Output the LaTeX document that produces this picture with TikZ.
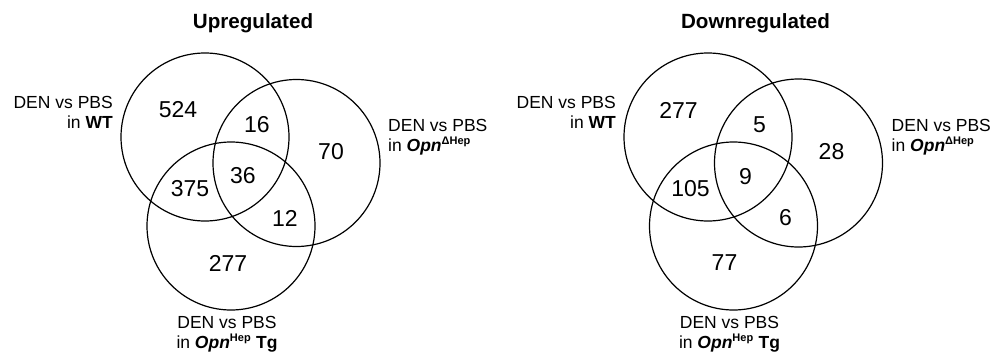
\documentclass[tikz,border=0pt]{standalone}
\usepackage{fontspec}
\setmainfont{Liberation Sans}
\begin{document}
\begin{tikzpicture}[x=1pt,y=-1pt,
  venn/.style={draw=black,line width=1.2pt},
  num/.style={font=\fontsize{23}{27}\selectfont,inner sep=0pt},
  lbl/.style={font=\fontsize{17.5}{21}\selectfont,inner sep=0pt},
  ttl/.style={font=\fontsize{20.6}{24}\selectfont\bfseries,inner sep=0pt}]
\useasboundingbox (0,0) rectangle (996,353);
\newcommand{\supx}[1]{\textsuperscript{\fontsize{11}{12}\selectfont\bfseries #1}}
% ---------- Upregulated ----------
\begin{scope}
\node[ttl,anchor=base] (t1) at (253,28.5) {Upregulated};
\draw[venn] (205,137) circle (84);
\draw[venn] (296.5,163) circle (83.5);
\draw[venn] (231,226) circle (84);
\node[num] (a1) at (178,110) {524};
\node[num] (a2) at (257,125) {16};
\node[num] (a3) at (331,152) {70};
\node[num] (a4) at (190,189) {375};
\node[num] (a5) at (243,176) {36};
\node[num] (a6) at (285,218) {12};
\node[num] (a7) at (228,263) {277};
\node[lbl,anchor=base east] (l1a) at (113,108) {DEN vs PBS};
\node[lbl,anchor=base east] (l1b) at (113,128) {in \textbf{WT}};
\node[lbl,anchor=base west] (r1a) at (388,131) {DEN vs PBS};
\node[lbl,anchor=base west] (r1b) at (388,151) {in \textbf{\textit{Opn}}\supx{ΔHep}};
\node[lbl,anchor=base] (b1a) at (227,328) {DEN vs PBS};
\node[lbl,anchor=base] (b1b) at (227,348) {in \textbf{\textit{Opn}}\supx{Hep} \textbf{Tg}};
\end{scope}
% ---------- Downregulated ----------
\begin{scope}[xshift=502.5]
\node[ttl,anchor=base] (t2) at (253,28.5) {Downregulated};
\draw[venn] (205.5,137) circle (84);
\draw[venn] (296,163) circle (84);
\draw[venn] (231,226) circle (84);
\node[num] (c1) at (176,110) {277};
\node[num] (c2) at (257,125) {5};
\node[num] (c3) at (329,152) {28};
\node[num] (c4) at (188,189) {105};
\node[num] (c5) at (243,177) {9};
\node[num] (c6) at (283,218) {6};
\node[num] (c7) at (222,263) {77};
\node[lbl,anchor=base east] (l2a) at (113.5,108) {DEN vs PBS};
\node[lbl,anchor=base east] (l2b) at (113.5,128) {in \textbf{WT}};
\node[lbl,anchor=base west] (r2a) at (389,131) {DEN vs PBS};
\node[lbl,anchor=base west] (r2b) at (389,151) {in \textbf{\textit{Opn}}\supx{ΔHep}};
\node[lbl,anchor=base] (b2a) at (227,328) {DEN vs PBS};
\node[lbl,anchor=base] (b2b) at (227,348) {in \textbf{\textit{Opn}}\supx{Hep} \textbf{Tg}};
\end{scope}
\end{tikzpicture}
\end{document}
